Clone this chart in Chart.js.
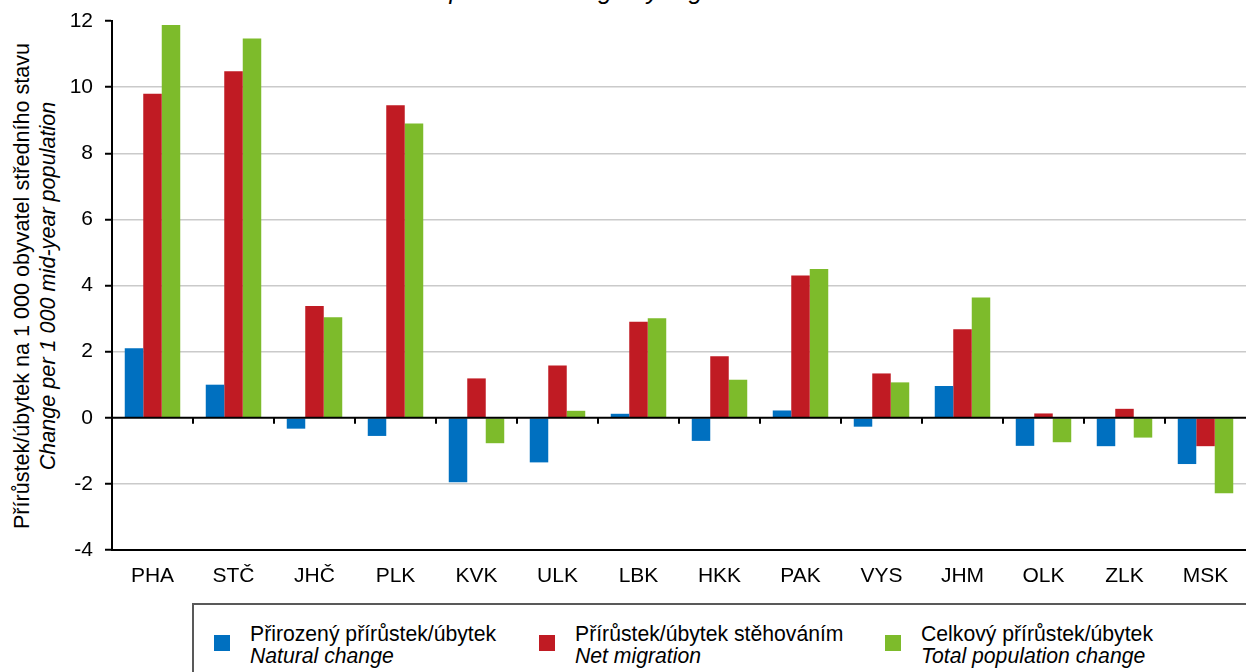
<!DOCTYPE html>
<html>
<head>
<meta charset="utf-8">
<script src="https://cdn.jsdelivr.net/npm/chart.js@4.4.1/dist/chart.umd.min.js"></script>
<style>
  html, body { margin: 0; padding: 0; background: #fff; }
  body { width: 1246px; height: 672px; overflow: hidden; position: relative;
         font-family: 'Liberation Sans', Arial, sans-serif; color: #000; }
  #wrap { position: absolute; left: 0; top: 0; width: 1246px; height: 600px; }
  .rot { position: absolute; width: 600px; height: 26px; line-height: 26px; text-align: center;
         font-size: 21.6px; transform: rotate(-90deg); white-space: nowrap; }
  #title { position: absolute; left: 419px; top: -22px; font-size: 25px; line-height: 25px;
           font-style: italic; white-space: nowrap; }
  #legend { position: absolute; left: 192px; top: 603px; width: 1100px; height: 120px;
            border-top: 2px solid #595959; border-left: 2px solid #595959; }
  .sw { position: absolute; width: 16px; height: 16px; }
  .lt { position: absolute; font-size: 21.2px; line-height: 21px; white-space: nowrap; }
  .it { font-style: italic; }
</style>
</head>
<body>
<div id="title">Population change by region</div>
<div class="rot" style="left:-278px; top:273px;">Přírůstek/úbytek na 1 000 obyvatel středního stavu</div>
<div class="rot it" style="left:-252px; top:273px;">Change per 1 000 mid-year population</div>
<div id="wrap"><canvas id="c" width="1246" height="600"></canvas></div>
<div id="legend"></div>
<script>
const categories = ['PHA','STČ','JHČ','PLK','KVK','ULK','LBK','HKK','PAK','VYS','JHM','OLK','ZLK','MSK'];
const naturalChange = [2.1, 1.0, -0.33, -0.55, -1.95, -1.35, 0.12, -0.7, 0.22, -0.27, 0.96, -0.85, -0.86, -1.4];
const netMigration = [9.8, 10.48, 3.38, 9.45, 1.19, 1.58, 2.9, 1.86, 4.3, 1.34, 2.68, 0.13, 0.27, -0.86];
const totalChange = [11.88, 11.47, 3.04, 8.9, -0.77, 0.21, 3.01, 1.15, 4.5, 1.07, 3.64, -0.74, -0.6, -2.28];
const seriesLabelsCz = ['Přirozený přírůstek/úbytek', 'Přírůstek/úbytek stěhováním', 'Celkový přírůstek/úbytek'];
const seriesLabelsEn = ['Natural change', 'Net migration', 'Total population change'];
const yTicks = [-4, -2, 0, 2, 4, 6, 8, 10, 12];
const colors = ['#0070C0', '#C01B23', '#7DBB2B'];

const FONT = "'Liberation Sans', Arial, sans-serif";

// legend (HTML, real text)
const legendX = [20, 345, 691];
const legend = document.getElementById('legend');
seriesLabelsCz.forEach((lab, i) => {
  const sw = document.createElement('div');
  sw.className = 'sw';
  sw.style.left = legendX[i] + 'px';
  sw.style.top = '30px';
  sw.style.background = colors[i];
  legend.appendChild(sw);
  const t1 = document.createElement('div');
  t1.className = 'lt';
  t1.style.left = (legendX[i] + 36) + 'px';
  t1.style.top = '18px';
  t1.textContent = lab;
  legend.appendChild(t1);
  const t2 = document.createElement('div');
  t2.className = 'lt it';
  t2.style.left = (legendX[i] + 36) + 'px';
  t2.style.top = '40px';
  t2.textContent = seriesLabelsEn[i];
  legend.appendChild(t2);
});

const zeroTicks = {
  id: 'zeroTicks',
  afterDatasetsDraw(chart) {
    const x = chart.scales.x, y = chart.scales.y;
    const ctx = chart.ctx;
    const y0 = y.getPixelForValue(0);
    ctx.save();
    ctx.strokeStyle = '#000';
    ctx.lineWidth = 2;
    ctx.beginPath();
    ctx.moveTo(chart.chartArea.left, y0);
    ctx.lineTo(chart.chartArea.right, y0);
    ctx.stroke();
    for (let i = 1; i < categories.length; i++) {
      const xb = (x.getPixelForTick(i - 1) + x.getPixelForTick(i)) / 2;
      ctx.beginPath();
      ctx.moveTo(xb, y0);
      ctx.lineTo(xb, y0 + 6);
      ctx.stroke();
    }
    ctx.restore();
  }
};

new Chart(document.getElementById('c'), {
  type: 'bar',
  data: {
    labels: categories,
    datasets: [
      { label: seriesLabelsCz[0], data: naturalChange, backgroundColor: colors[0] },
      { label: seriesLabelsCz[1], data: netMigration, backgroundColor: colors[1] },
      { label: seriesLabelsCz[2], data: totalChange, backgroundColor: colors[2] }
    ]
  },
  options: {
    responsive: false,
    animation: false,
    maintainAspectRatio: false,
    layout: { padding: { top: 21, right: 0, left: 0, bottom: 0 } },
    datasets: { bar: { categoryPercentage: 0.685, barPercentage: 1.0 } },
    plugins: { legend: { display: false }, tooltip: { enabled: false }, title: { display: false } },
    scales: {
      x: {
        grid: { display: false, drawTicks: false },
        border: { display: true, color: '#000', width: 2 },
        ticks: { color: '#000', font: { family: FONT, size: 21 }, padding: 14, maxRotation: 0 },
        afterFit(s) { s.height = 50; s.paddingLeft = 0; s.paddingRight = 0; }
      },
      y: {
        min: -4, max: 12,
        afterBuildTicks(s) { s.ticks = yTicks.map(v => ({ value: v })); },
        grid: {
          color: c => (c.tick && (c.tick.value === 12 || c.tick.value === -4 || c.tick.value === 0)) ? 'rgba(0,0,0,0)' : '#cacaca',
          lineWidth: 1.5,
          tickLength: 7,
          tickColor: '#000',
          tickWidth: 2
        },
        border: { display: true, color: '#000', width: 2 },
        ticks: { color: '#000', font: { family: FONT, size: 21 }, padding: 12 },
        afterFit(s) { s.width = 112; s.paddingTop = 0; s.paddingBottom = 0; }
      }
    }
  },
  plugins: [zeroTicks]
});
</script>
</body>
</html>
